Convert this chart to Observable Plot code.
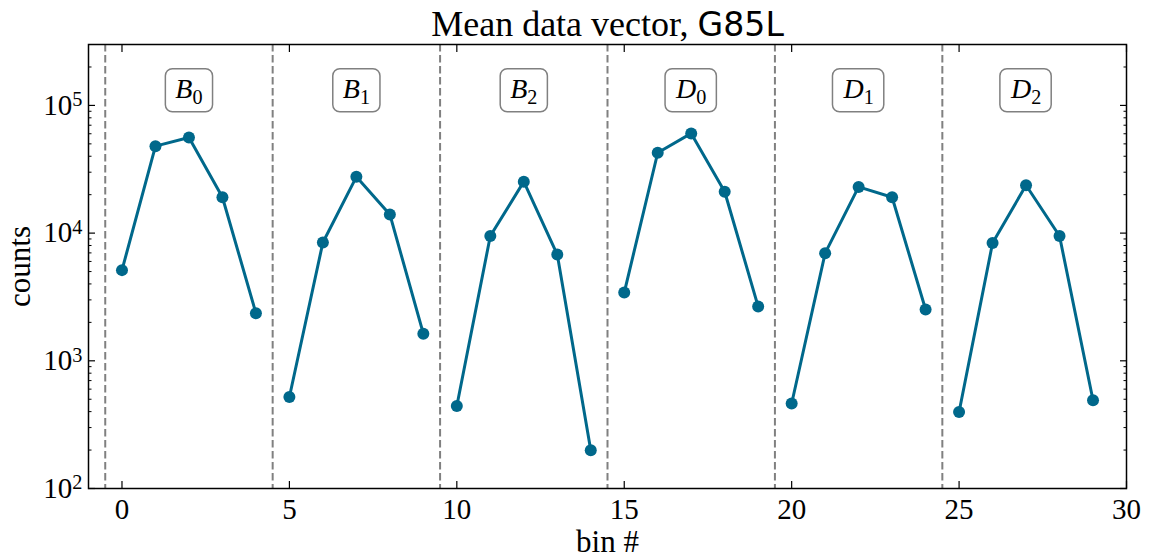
<!DOCTYPE html>
<html>
<head>
<meta charset="utf-8">
<script src="https://cdn.jsdelivr.net/npm/d3@7"></script>
<script src="https://cdn.jsdelivr.net/npm/@observablehq/plot@0.6"></script>
<style>
  html, body { margin: 0; padding: 0; background: #ffffff; }
  #chart { width: 1152px; height: 558px; overflow: hidden; }
</style>
</head>
<body>
<div id="chart"></div>
<script>
// ---------------- data ----------------
const titleMain = "Mean data vector, ";
const titleTag = "G85L";
const xLabel = "bin #";
const yLabel = "counts";

const groupLetters = ["B", "B", "B", "D", "D", "D"];
const groupSubs = ["0", "1", "2", "0", "1", "2"];

const countsB0 = [5130, 47970, 56100, 19100, 2360];
const countsB1 = [521, 8450, 27600, 14000, 1630];
const countsB2 = [443, 9490, 25300, 6800, 199];
const countsD0 = [3420, 42600, 60400, 21100, 2660];
const countsD1 = [463, 6970, 23000, 19100, 2520];
const countsD2 = [397, 8360, 23700, 9490, 491];

const boundaries = [-0.5, 4.5, 9.5, 14.5, 19.5, 24.5];
const xTicks = [0, 5, 10, 15, 20, 25, 30];
const yMajorTicks = [1e2, 1e3, 1e4, 1e5];
const yMinorMultipliers = [2, 3, 4, 5, 6, 7, 8, 9];

// ---------------- tables built from the arrays ----------------
const seriesCounts = [countsB0, countsB1, countsB2, countsD0, countsD1, countsD2];
const binsPerGroup = countsB0.length;
const data = seriesCounts.flatMap((arr, g) =>
  arr.map((c, j) => ({group: g, bin: g * binsPerGroup + j, count: c})));
const panelLabels = groupLetters.map((L, g) => ({
  text: L + groupSubs[g],
  bin: g * binsPerGroup + Math.floor(binsPerGroup / 2)
}));
const yMinorTicks = yMajorTicks.flatMap(d => yMinorMultipliers.map(m => d * m)).filter(v => v < 3e5);

const serif = "'Liberation Serif', 'DejaVu Serif', serif";
const sans = "'DejaVu Sans', sans-serif";
const lineColor = "#00688b";

const plot = Plot.plot({
  width: 1152,
  height: 558,
  marginLeft: 88,
  marginRight: 26,
  marginTop: 44,
  marginBottom: 70,
  style: {fontFamily: serif, fontSize: "28px", background: "#ffffff", color: "#000000", overflow: "visible"},
  x: {domain: [-1, 30]},
  y: {type: "log", domain: [100, 3e5]},
  marks: [
    Plot.ruleX(boundaries, {stroke: "#808080", strokeWidth: 2, strokeDasharray: "7.5,3.5"}),
    Plot.line(data, {x: "bin", y: "count", z: "group", stroke: lineColor, strokeWidth: 3}),
    Plot.dot(data, {x: "bin", y: "count", r: 6, fill: lineColor, stroke: "none"}),
    Plot.text(panelLabels, {x: "bin", frameAnchor: "top", lineAnchor: "middle", textAnchor: "middle",
      dy: 44.5, text: "text", fontSize: 28, fill: "#000"}),

    // inward ticks, all four sides
    Plot.axisX({anchor: "bottom", ticks: xTicks, tickSize: -7, tickFormat: () => "", label: null, strokeWidth: 1.2}),
    Plot.axisX({anchor: "top", ticks: xTicks, tickSize: -7, tickFormat: () => "", label: null, strokeWidth: 1.2}),
    Plot.axisY({anchor: "left", ticks: yMajorTicks, tickSize: -7, tickFormat: () => "", label: null, strokeWidth: 1.2}),
    Plot.axisY({anchor: "right", ticks: yMajorTicks, tickSize: -7, tickFormat: () => "", label: null, strokeWidth: 1.2}),
    Plot.axisY({anchor: "left", ticks: yMinorTicks, tickSize: -3.5, tickFormat: () => "", label: null, strokeWidth: 1}),
    Plot.axisY({anchor: "right", ticks: yMinorTicks, tickSize: -3.5, tickFormat: () => "", label: null, strokeWidth: 1}),

    // tick labels
    Plot.axisX({anchor: "bottom", ticks: xTicks, tickSize: 0, tickPadding: 10, tickFormat: d => String(d), label: null, fontSize: 29}),
    Plot.axisY({anchor: "left", ticks: yMajorTicks, tickSize: 0, tickPadding: 6,
      tickFormat: d => "10^" + Math.round(Math.log10(d)), label: null, fontSize: 29}),

    Plot.frame({stroke: "#000", strokeWidth: 1.5}),

    // axis titles and chart title
    Plot.text([xLabel], {frameAnchor: "bottom", lineAnchor: "middle", textAnchor: "middle", dy: 54, fontSize: 31, fill: "#000"}),
    Plot.text([yLabel], {frameAnchor: "left", lineAnchor: "middle", textAnchor: "middle", rotate: -90, dx: -68, fontSize: 31, fill: "#000"}),
    Plot.text([titleMain + titleTag], {frameAnchor: "top", lineAnchor: "middle", textAnchor: "middle", dy: -20, fontSize: 36, fill: "#000"})
  ]
});

document.getElementById("chart").appendChild(plot);

// ---------------- typographic refinements (sub/superscripts, boxes) ----------------
const svgNS = "http://www.w3.org/2000/svg";
d3.select(plot).selectAll("text").each(function() {
  const t = this.textContent;
  const sel = d3.select(this);
  if (/^10\^\d$/.test(t)) {
    const [base, exp] = t.split("^");
    sel.text(null);
    sel.append("tspan").text(base);
    sel.append("tspan").attr("dy", "-0.42em").attr("font-size", "0.7em").text(exp);
  } else if (/^[BD]\d$/.test(t)) {
    sel.text(null);
    sel.append("tspan").attr("font-style", "italic").text(t[0]);
    sel.append("tspan").attr("dy", "0.28em").attr("font-size", "0.72em").text(t[1]);
    const bb = this.getBBox();
    const padX = 10, w = bb.width + 2 * padX, h = 43;
    const cx = bb.x + bb.width / 2, cy = bb.y + bb.height / 2;
    const rect = document.createElementNS(svgNS, "rect");
    rect.setAttribute("x", cx - w / 2);
    rect.setAttribute("y", cy - h / 2);
    rect.setAttribute("width", w);
    rect.setAttribute("height", h);
    rect.setAttribute("rx", 7);
    rect.setAttribute("ry", 7);
    rect.setAttribute("fill", "#ffffff");
    rect.setAttribute("stroke", "#808080");
    rect.setAttribute("stroke-width", 1.5);
    const tr = this.getAttribute("transform");
    if (tr) rect.setAttribute("transform", tr);
    this.parentNode.insertBefore(rect, this);
  } else if (t === titleMain + titleTag) {
    sel.text(null);
    sel.append("tspan").text(titleMain.replace(/ $/, "\u00a0"));
    sel.append("tspan").attr("font-family", sans).attr("font-size", "0.92em").text(titleTag);
  }
});
</script>
</body>
</html>
